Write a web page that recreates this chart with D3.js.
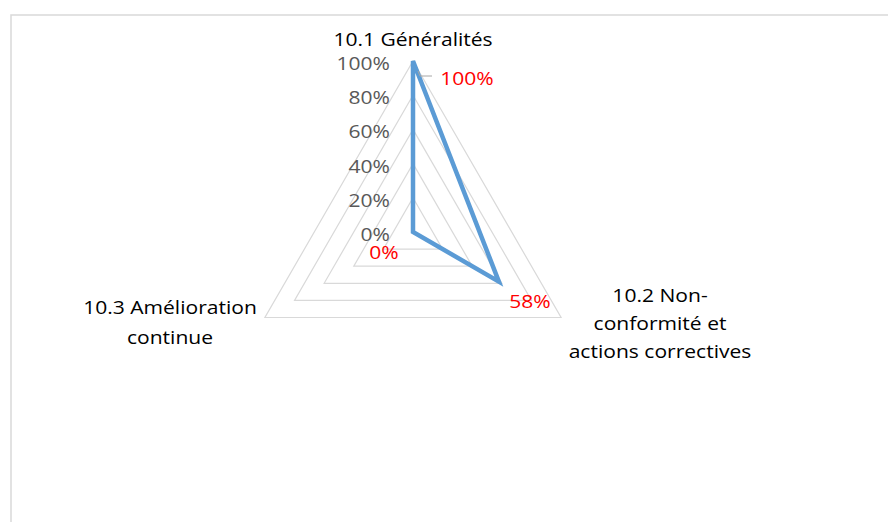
<!DOCTYPE html>
<html>
<head>
<meta charset="utf-8">
<script src="https://cdn.jsdelivr.net/npm/d3@7"></script>
<style>
html,body{margin:0;padding:0;background:#fff;}
svg{display:block;font-family:"Open Sans",sans-serif;}
</style>
</head>
<body>
<svg id="chart" width="888" height="522"></svg>
<script>
const categories = ["10.1 Généralités", "10.2 Non-|conformité et|actions correctives", "10.3  Amélioration|continue"];
const values = [1.00, 0.58, 0.00];
const valueLabels = ["100%", "58%", "0%"];
const tickValues = [0, 0.2, 0.4, 0.6, 0.8, 1.0];
const tickLabels = ["0%", "20%", "40%", "60%", "80%", "100%"];

const svg = d3.select("#chart");
const cx = 413, cy = 232, R = 171;
const FS = 18, SX = 1.17;

// frame
svg.append("rect").attr("x", 11).attr("y", 15).attr("width", 900).attr("height", 540)
  .attr("fill", "#fff").attr("stroke", "#d9d9d9").attr("stroke-width", 1.5);

const r = d3.scaleLinear().domain([0, 1]).range([0, R]);
const n = categories.length;
const angle = i => i * 2 * Math.PI / n;
const pt = (i, v) => [cx + r(v) * Math.sin(angle(i)), cy - r(v) * Math.cos(angle(i))];

function label(x, y, lines, anchor, color, spacing) {
  const g = svg.append("g").attr("transform", `translate(${x},${y}) scale(${SX},1)`);
  const t = g.append("text").attr("text-anchor", anchor).attr("fill", color).attr("font-size", FS);
  lines.forEach((s, k) => t.append("tspan").attr("x", 0).attr("y", k * (spacing || 0)).text(s));
  return g;
}

// grid triangles
const line = d3.line();
tickValues.filter(t => t > 0).forEach(t => {
  const pts = d3.range(n).map(i => pt(i, t));
  svg.append("path").attr("d", line(pts) + "Z").attr("fill", "none")
    .attr("stroke", "#d9d9d9").attr("stroke-width", 1.2);
});

// tick labels (baseline slightly below gridline)
tickValues.forEach((d, i) => label(cx - 23, pt(0, d)[1] + 9, [tickLabels[i]], "end", "#595959"));

// series
const spts = values.map((v, i) => pt(i, v));
svg.append("path").attr("d", line(spts) + "Z").attr("fill", "none")
  .attr("stroke", "#5b9bd5").attr("stroke-width", 4.5).attr("stroke-linejoin", "miter");

// leader line for 100%
svg.append("path")
  .attr("d", `M${spts[0][0] + 5},${spts[0][1] + 10} L${spts[0][0] + 7},${spts[0][1] + 15} L${spts[0][0] + 19},${spts[0][1] + 15}`)
  .attr("fill", "none").attr("stroke", "#a6a6a6").attr("stroke-width", 1);

// data labels
const offs = [[54, 24], [31, 26], [-29, 27]];
values.forEach((v, i) => label(spts[i][0] + offs[i][0], spts[i][1] + offs[i][1], [valueLabels[i]], "middle", "#ff0000"));

// category labels
const catPos = [[413, 46, 0], [660, 302, 28], [170, 314, 30]];
categories.forEach((c, i) => label(catPos[i][0], catPos[i][1], c.split("|"), "middle", "#000", catPos[i][2]));
</script>
</body>
</html>
